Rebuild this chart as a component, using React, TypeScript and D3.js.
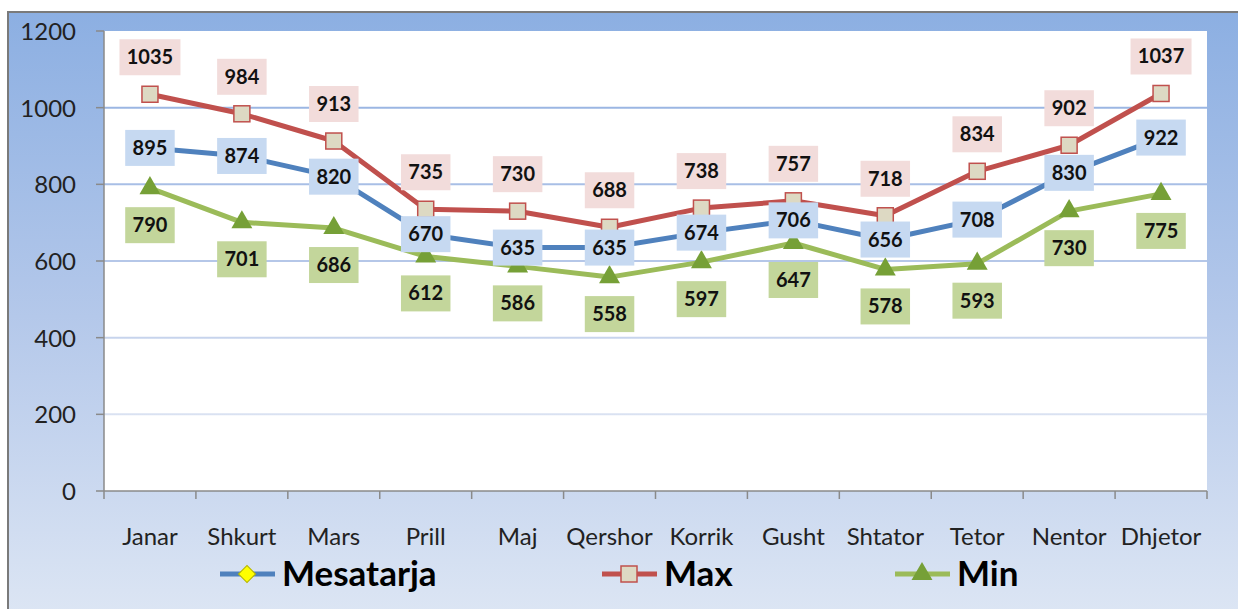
import * as d3 from "d3";
import React from "react";

const months = ["Janar", "Shkurt", "Mars", "Prill", "Maj", "Qershor", "Korrik", "Gusht", "Shtator", "Tetor", "Nentor", "Dhjetor"];
const mesatarja = [895, 874, 820, 670, 635, 635, 674, 706, 656, 708, 830, 922];
const maxVals = [1035, 984, 913, 735, 730, 688, 738, 757, 718, 834, 902, 1037];
const minVals = [790, 701, 686, 612, 586, 558, 597, 647, 578, 593, 730, 775];
const yTicks = [0, 200, 400, 600, 800, 1000, 1200];

const W = 1238;
const H = 609;
const plot = { left: 104, right: 1207, top: 31, bottom: 491 };
const font = "Lato, 'Noto Sans', sans-serif";

const x = d3.scaleBand<string>().domain(months).range([plot.left, plot.right]);
const cx = (m: string) => (x(m) as number) + x.bandwidth() / 2;
const y = d3.scaleLinear().domain([0, 1200]).range([plot.bottom, plot.top]);

const series = [
  { name: "Mesatarja", values: mesatarja, line: "#4f81bd", box: "#c6d9f1", dy: 0 },
  { name: "Max", values: maxVals, line: "#c0504d", box: "#f2dcdb", dy: -37 },
  { name: "Min", values: minVals, line: "#9bbb59", box: "#c3d69b", dy: 37 },
];

const Marker = ({ kind, px, py }: { kind: string; px: number; py: number }) => {
  if (kind === "Max")
    return <rect x={px - 8} y={py - 8} width={16} height={16} fill="#ddd9c3" stroke="#c0504d" strokeWidth={1.5} />;
  if (kind === "Min") {
    const tri = d3.symbol(d3.symbolTriangle, 190)();
    return <path d={tri as string} transform={`translate(${px},${py})`} fill="#76a037" />;
  }
  return (
    <rect x={-6} y={-6} width={12} height={12} transform={`translate(${px},${py}) rotate(45)`} fill="#ffff00" stroke="#b5b500" />
  );
};

const Label = ({ text, px, py, fill }: { text: string; px: number; py: number; fill: string }) => {
  const w = text.length * 11.5 + 15;
  return (
    <g>
      <rect x={px - w / 2} y={py - 18} width={w} height={36} fill={fill} />
      <text x={px} y={py + 7} textAnchor="middle" fontFamily={font} fontWeight="bold" fontSize={20} fill="#111">
        {text}
      </text>
    </g>
  );
};

const legendItems = [
  { s: series[0], x0: 220 },
  { s: series[1], x0: 602 },
  { s: series[2], x0: 895 },
];

export default function App() {
  const lineGen = d3
    .line<number>()
    .x((_, i) => cx(months[i]))
    .y((v) => y(v));

  return (
    <svg width={W} height={H} style={{ position: "absolute", left: 0, top: 0 }}>
      <defs>
        <linearGradient id="bg" x1="0" y1="0" x2="0" y2="1">
          <stop offset="0" stopColor="#8cafe2" />
          <stop offset="0.5" stopColor="#b4c8ea" />
          <stop offset="1" stopColor="#dde6f4" />
        </linearGradient>
        <linearGradient id="grid" gradientUnits="userSpaceOnUse" x1="0" y1={plot.top} x2="0" y2={plot.bottom}>
          <stop offset="0" stopColor="#8eaee0" />
          <stop offset="0.5" stopColor="#b5c7e8" />
          <stop offset="1" stopColor="#eceff6" />
        </linearGradient>
      </defs>
      <rect x={0} y={0} width={W} height={H} fill="#ffffff" />
      <rect x={8} y={12} width={W} height={H} fill="url(#bg)" stroke="#7a7a7a" strokeWidth={2} />
      <rect x={plot.left} y={plot.top} width={plot.right - plot.left} height={plot.bottom - plot.top} fill="#ffffff" />

      {yTicks.map((t) => (
        <g key={t}>
          {t > 0 && t < 1200 && (
            <line x1={plot.left} x2={plot.right} y1={y(t)} y2={y(t)} stroke="url(#grid)" strokeWidth={2} />
          )}
          <line x1={plot.left - 8} x2={plot.left} y1={y(t)} y2={y(t)} stroke="#8a8a8a" strokeWidth={1.5} />
          <text x={76} y={y(t) + 9} textAnchor="end" fontFamily={font} fontSize={24} fill="#222">
            {t}
          </text>
        </g>
      ))}
      <line x1={plot.left} x2={plot.left} y1={plot.top} y2={plot.bottom} stroke="#8a8a8a" strokeWidth={1.5} />
      <line x1={plot.left} x2={plot.right} y1={plot.bottom} y2={plot.bottom} stroke="#8a8a8a" strokeWidth={1.5} />
      {months.concat([""]).map((m, i) => {
        const tx = plot.left + i * x.bandwidth();
        return <line key={i} x1={tx} x2={tx} y1={plot.bottom} y2={plot.bottom + 8} stroke="#8a8a8a" strokeWidth={1.5} />;
      })}
      {months.map((m) => (
        <text key={m} x={cx(m)} y={545} textAnchor="middle" fontFamily={font} fontSize={24} fill="#222">
          {m}
        </text>
      ))}

      {series.map((s) => (
        <path key={s.name} d={lineGen(s.values) as string} fill="none" stroke={s.line} strokeWidth={5} strokeLinejoin="round" />
      ))}
      {series.map((s) =>
        s.name === "Mesatarja"
          ? null
          : s.values.map((v, i) => <Marker key={s.name + i} kind={s.name} px={cx(months[i])} py={y(v)} />)
      )}
      {series.map((s) =>
        s.values.map((v, i) => (
          <Label key={"l" + s.name + i} text={String(v)} px={cx(months[i])} py={y(v) + s.dy} fill={s.box} />
        ))
      )}

      {legendItems.map(({ s, x0 }) => (
        <g key={s.name}>
          <line x1={x0} x2={x0 + 55} y1={574} y2={574} stroke={s.line} strokeWidth={5} />
          <Marker kind={s.name} px={x0 + 27} py={574} />
          <text x={x0 + 62} y={586} fontFamily={font} fontWeight="bold" fontSize={35} fill="#000">
            {s.name}
          </text>
        </g>
      ))}
    </svg>
  );
}
